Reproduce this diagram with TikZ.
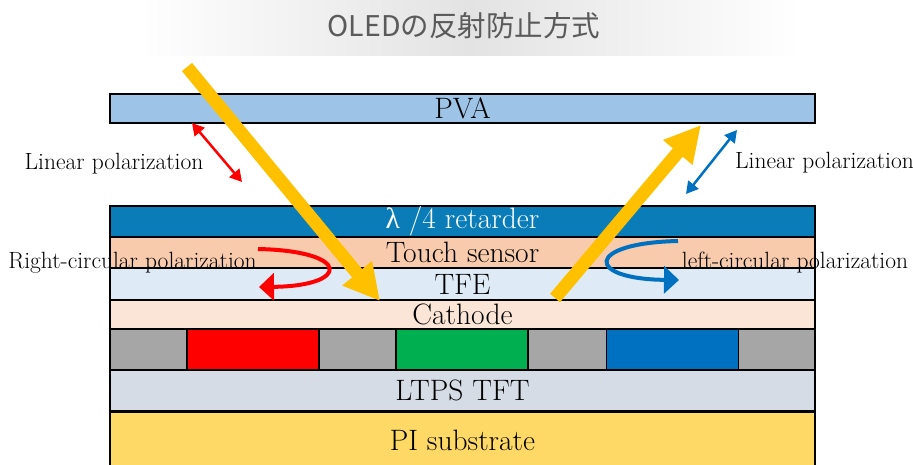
\documentclass[tikz,border=0pt]{standalone}
\usepackage{fontspec}
\usetikzlibrary{arrows.meta}
\newfontfamily\jpfont{Noto Sans CJK JP}
\newfontfamily\grkfont{Liberation Serif}
\definecolor{pvac}{HTML}{9DC3E6}
\definecolor{retc}{RGB}{10,125,185}
\definecolor{touchc}{HTML}{F8CBAD}
\definecolor{tfec}{HTML}{DEEBF7}
\definecolor{cathc}{HTML}{FBE5D6}
\definecolor{ltpsc}{HTML}{D6DCE5}
\definecolor{pic}{HTML}{FFD966}
\definecolor{grayc}{HTML}{A6A6A6}
\definecolor{redc}{HTML}{FF0000}
\definecolor{greenc}{HTML}{00B050}
\definecolor{bluec}{HTML}{0070C0}
\definecolor{yelc}{HTML}{FFC000}
\definecolor{titlec}{HTML}{5A5A5A}
\begin{document}
\begin{tikzpicture}[x=1pt,y=-1pt,
  layer/.style={draw=black, line width=1.3pt, minimum width=705pt, inner sep=0pt, font=\fontsize{29.5}{34}\selectfont},
  subpix/.style={draw=black, line width=1.3pt, inner sep=0pt, minimum width=132pt, minimum height=41pt},
  lbl/.style={font=\fontsize{23.5}{28}\selectfont, inner sep=0pt, anchor=base},
  yarrow/.style={draw=yelc, line width=13pt, -{Triangle[length=36pt,width=36pt]}},
  dbl/.style={line width=2.5pt, {Triangle[length=12pt,width=13pt]}-{Triangle[length=12pt,width=13pt]}},
  curl/.style={line width=4pt, -{Triangle[length=15pt,width=27pt]}}
]
\useasboundingbox (0,0) rectangle (913,464);
% title
\shade[left color=white, right color=white, middle color=black!11] (140,0) rectangle (800,55);
\node[font=\jpfont\fontsize{28.5}{32}\selectfont, text=titlec, inner sep=0pt] (title) at (464,25.5) {OLEDの反射防止方式};
% layers
\node[layer, fill=pvac, minimum height=29pt] (pva) at (462.5,108.5) {PVA};
\node[layer, fill=retc, minimum height=31pt, text=white] (ret) at (462.5,221.5) {{\grkfont λ} /4 retarder};
\node[layer, fill=touchc, minimum height=31pt] (touch) at (462.5,252.5) {Touch sensor};
\node[layer, fill=tfec, minimum height=32pt] (tfe) at (462.5,284) {TFE};
\node[layer, fill=cathc, minimum height=29pt] (cath) at (462.5,314.5) {Cathode};
\node[layer, fill=grayc, minimum height=41pt] (pix) at (462.5,349.5) {};
\node[subpix, fill=redc] (rpx) at (253,349.5) {};
\node[subpix, fill=greenc] (gpx) at (462,349.5) {};
\node[subpix, fill=bluec] (bpx) at (672.5,349.5) {};
\node[layer, fill=ltpsc, minimum height=41pt] (ltps) at (462.5,390.5) {LTPS TFT};
\node[layer, fill=pic, minimum height=56pt] (pi) at (462.5,440) {PI substrate};
% labels
\node[lbl] (linL) at (114,169) {Linear polarization};
\node[lbl] (linR) at (824.5,168) {Linear polarization};
\node[lbl] (rcp) at (132.5,268) {Right-circular polarization};
\node[lbl] (lcp) at (795,268) {left-circular polarization};
% coordinates
\coordinate (inS) at (187,67);
\coordinate (inE) at (380,301);
\coordinate (outS) at (555,298);
\coordinate (outE) at (701,125);
\coordinate (rdA) at (192,123);
\coordinate (rdB) at (242,182);
\coordinate (bdA) at (737,130);
\coordinate (bdB) at (686,194);
\coordinate (rcS) at (258,249);
\coordinate (rcE) at (259,287);
\coordinate (bcS) at (678,241);
\coordinate (bcE) at (679,280);
% polarization arrows
\draw[dbl, draw=redc] (rdA) -- (rdB);
\draw[dbl, draw=bluec] (bdA) -- (bdB);
\draw[curl, draw=redc] (rcS) .. controls (352,251) and (350,286) .. (rcE);
\draw[curl, draw=bluec] (bcS) .. controls (585,243) and (585,279) .. (bcE);
% light
\draw[yarrow] (inS) -- (inE);
\draw[yarrow] (outS) -- (outE);
\end{tikzpicture}
\end{document}
